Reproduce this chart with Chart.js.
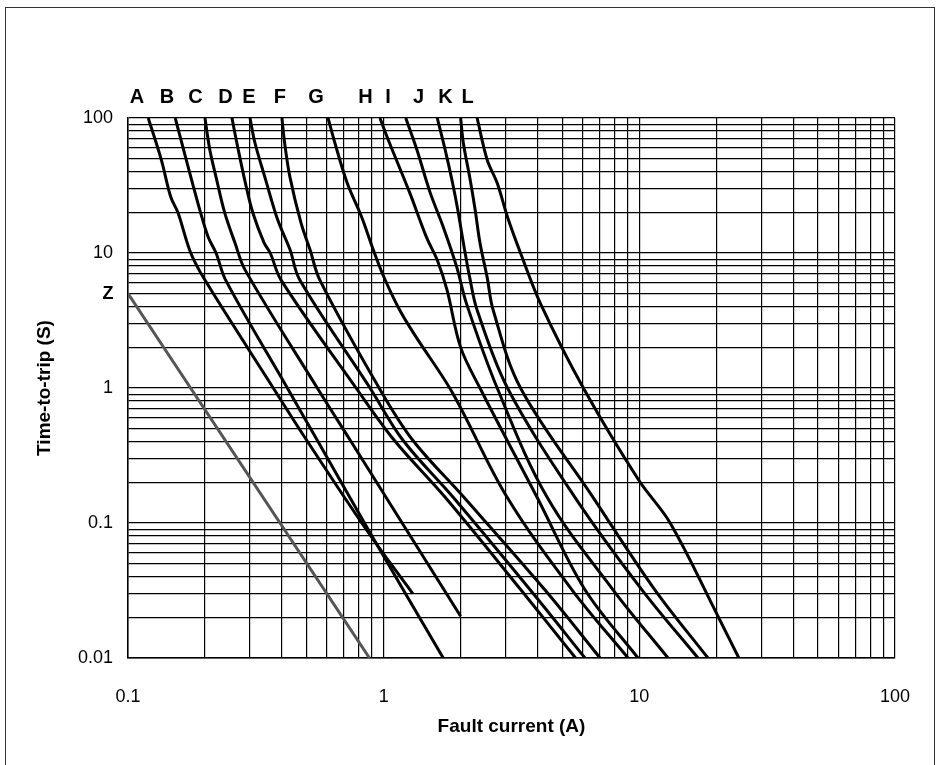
<!DOCTYPE html>
<html>
<head>
<meta charset="utf-8">
<script src="https://cdn.jsdelivr.net/npm/chart.js@4.4.1/dist/chart.umd.min.js"></script>
<style>
  html, body { margin: 0; padding: 0; background: #fff; }
  #wrap { position: relative; width: 940px; height: 765px; overflow: hidden; }
  #frame { position: absolute; left: 5px; top: 7px; width: 928px; height: 820px; border: 1px solid #333; }
  #mycanvas { position: absolute; left: 0; top: 0; }
</style>
</head>
<body>
<div id="wrap">
  <div id="frame"></div>
  <canvas id="mycanvas" width="940" height="765"></canvas>
</div>
<script>
// fuse curves: [current (A), time-to-trip (s)]
var curveNames = ['A', 'B', 'C', 'D', 'E', 'F', 'G', 'H', 'I', 'J', 'K', 'L'];
var A = [[0.12,100],[0.135,49],[0.147,26],[0.157,19.8],[0.176,10],[0.2,6.3],[0.37,1],[0.5,0.41],[0.86,0.088],[1.3,0.03]];
var B = [[0.153,100],[0.169,49],[0.191,20.8],[0.206,13.1],[0.221,10],[0.241,6.3],[0.42,1],[0.55,0.41],[0.88,0.086],[1.71,0.01]];
var C = [[0.2,100],[0.209,58],[0.221,36.5],[0.239,19.8],[0.262,11.9],[0.287,7.5],[0.55,1],[0.74,0.41],[2.0,0.0204]];
var D = [[0.255,100],[0.27,58],[0.29,31],[0.308,19.8],[0.34,12],[0.36,10],[0.397,6.3],[0.78,1],[1.1,0.41],[1.74,0.155],[3.44,0.032],[5.63,0.01]];
var E = [[0.3,100],[0.314,65],[0.343,36.5],[0.385,17.6],[0.43,10.6],[0.47,6.3],[0.884,1],[1.19,0.41],[1.87,0.155],[3.74,0.032],[6.13,0.01]];
var F = [[0.4,100],[0.41,65],[0.43,36.5],[0.475,16.7],[0.515,10.6],[0.563,6.3],[0.96,1],[1.3,0.41],[2.06,0.155],[4.27,0.032],[7.02,0.01]];
var G = [[0.606,100],[0.645,65],[0.72,33],[0.82,18.5],[0.91,10.6],[1.0,6.7],[1.155,3.78],[1.338,2.39],[1.86,0.92],[3.04,0.155],[5.45,0.032],[9.03,0.01]];
var H = [[0.967,100],[1.055,65],[1.264,28],[1.47,13.1],[1.62,8.87],[1.77,5.3],[2.0,2.0],[2.38,1],[3.98,0.155],[6.13,0.032],[9.88,0.01]];
var I = [[1.22,100],[1.35,58],[1.52,28],[1.71,15.6],[1.93,7.9],[2.11,4.2],[2.78,1],[4.36,0.155],[7.89,0.032],[12.95,0.01]];
var J = [[1.62,100],[1.74,58],[1.86,33],[1.95,20.8],[2.05,11.9],[2.17,6.6],[2.32,3.78],[3.05,1],[5.6,0.155],[10.24,0.032],[16.96,0.01]];
var K = [[2.0,100],[2.05,65],[2.17,36.5],[2.28,20.8],[2.38,11.9],[2.54,6.6],[2.68,3.78],[3.43,1],[6.59,0.155],[11.5,0.032],[18.56,0.01]];
var L = [[2.32,100],[2.54,49],[2.78,33],[3.05,18.5],[3.43,10],[4.11,4.2],[6.04,1],[9.94,0.208],[13.2,0.1],[20.3,0.0204],[24.5,0.01]];
var Z = [[0.1,5],[0.88,0.01]];

// where the letters sit above the chart (current, A)
var labelAmps = [0.1084, 0.1421, 0.1837, 0.2406, 0.2973, 0.393, 0.5437, 0.849, 1.04, 1.368, 1.745, 2.128];
var zLabelSecs = 5;

var xTickValues = [0.1, 1, 10, 100];
var xTickLabels = ['0.1', '1', '10', '100'];
var yTickValues = [0.01, 0.1, 1, 10, 100];
var yTickLabels = ['0.01', '0.1', '1', '10', '100'];

var curves = [A, B, C, D, E, F, G, H, I, J, K, L];
var FONT = '"Liberation Sans", Arial, sans-serif';

function toPoints(arr) {
	return arr.map(function(p) { return {x: p[0], y: p[1]}; });
}

function logGrid(lo, hi) {
	var t = [];
	for (var d = lo; d < hi; d *= 10) {
		var dec = parseFloat(d.toPrecision(1));
		t.push({value: dec});
		for (var k = 2; k <= 9; k++) t.push({value: k * dec});
	}
	t.push({value: hi});
	return t;
}

var datasets = [];
for (var i = 0; i < curves.length; i++) {
	datasets.push({
		label: curveNames[i],
		data: toPoints(curves[i]),
		borderColor: '#000',
		borderWidth: 3,
		pointRadius: 0,
		tension: 0.35,
		showLine: true,
		fill: false
	});
}
datasets.push({
	label: 'Z',
	data: toPoints(Z),
	borderColor: '#555',
	borderWidth: 3,
	pointRadius: 0,
	showLine: true,
	fill: false
});

var curveLabels = {
	id: 'curveLabels',
	afterDraw: function(chart) {
		var c = chart.ctx, xs = chart.scales.x, ys = chart.scales.y;
		c.save();
		c.fillStyle = '#000';
		c.textAlign = 'center';
		c.textBaseline = 'middle';
		c.font = 'bold 20px ' + FONT;
		for (var i = 0; i < curveNames.length; i++) {
			c.fillText(curveNames[i], xs.getPixelForValue(labelAmps[i]), chart.chartArea.top - 21);
		}
		c.font = 'bold 18px ' + FONT;
		c.fillText('Z', chart.chartArea.left - 20, ys.getPixelForValue(zLabelSecs));
		c.restore();
	}
};

var ctx = document.getElementById('mycanvas');
var chart = new Chart(ctx, {
	type: 'scatter',
	data: { datasets: datasets },
	options: {
		responsive: false,
		animation: false,
		layout: { padding: { top: 118, right: 45, left: 0, bottom: 0 } },
		plugins: { legend: { display: false }, tooltip: { enabled: false } },
		scales: {
			x: {
				type: 'logarithmic',
				min: 0.1, max: 100,
				afterFit: function(s) { s.height = 107; },
				afterBuildTicks: function(s) { s.ticks = logGrid(0.1, 100); },
				grid: { color: '#000', lineWidth: 1.2, drawTicks: false },
				border: { color: '#000', width: 1.5 },
				ticks: {
					autoSkip: false, maxRotation: 0, padding: 28,
					color: '#000',
					font: { size: 18, family: FONT },
					callback: function(v) { var k = xTickValues.indexOf(v); return k < 0 ? '' : xTickLabels[k]; }
				},
				title: {
					display: true, text: 'Fault current (A)', color: '#000',
					font: { size: 19, weight: 'bold', family: FONT },
					padding: { top: 0, bottom: 27 }
				}
			},
			y: {
				type: 'logarithmic',
				min: 0.01, max: 100,
				afterFit: function(s) { s.width = 128; },
				afterBuildTicks: function(s) { s.ticks = logGrid(0.01, 100); },
				grid: { color: '#000', lineWidth: 1.2, drawTicks: false },
				border: { color: '#000', width: 1.5 },
				ticks: {
					autoSkip: false, padding: 15,
					color: '#000',
					font: { size: 18, family: FONT },
					callback: function(v) { var k = yTickValues.indexOf(v); return k < 0 ? '' : yTickLabels[k]; }
				},
				title: {
					display: true, text: 'Time-to-trip (S)', color: '#000',
					font: { size: 19, weight: 'bold', family: FONT },
					padding: { top: 33, bottom: 0 }
				}
			}
		}
	},
	plugins: [curveLabels]
});
</script>
</body>
</html>
